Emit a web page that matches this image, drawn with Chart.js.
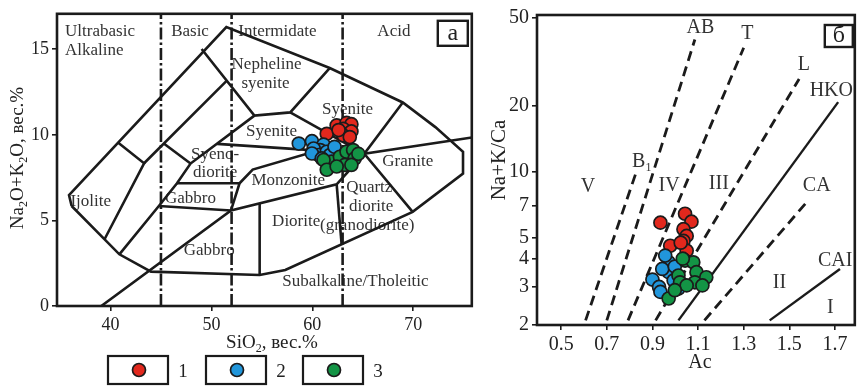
<!DOCTYPE html>
<html>
<head>
<meta charset="utf-8">
<script src="https://cdn.jsdelivr.net/npm/chart.js@4.4.1/dist/chart.umd.min.js"></script>
<style>
  html, body { margin: 0; padding: 0; background: #fff; }
  #wrap { position: relative; width: 863px; height: 386px; overflow: hidden; }
  #boxA { position: absolute; left: 0; top: 0; width: 480px; height: 386px; }
  #boxB { position: absolute; left: 480px; top: 0; width: 383px; height: 386px; }
</style>
</head>
<body>
<div id="wrap">
  <div id="boxA"><canvas id="tas"></canvas></div>
  <div id="boxB"><canvas id="ac"></canvas></div>
</div>
<script>
// ---- panel a : SiO2 vs Na2O+K2O ----
const siO2Ticks = [40, 50, 60, 70];
const alkTicks  = [0, 5, 10, 15];
const classLimits = [45, 52, 63];   // ultrabasic / basic / intermediate / acid

const group1SiO2 = [61.43, 62.41, 63.39, 63.87, 63.06, 63.55, 63.87, 63.06, 63.71, 62.6];
const group1Alk  = [10.06, 10.55, 10.70, 10.62, 10.35, 10.06, 10.20, 9.97, 9.87, 10.28];
const group2SiO2 = [58.66, 59.96, 61.11, 60.77, 60.13, 60.62, 61.43, 61.75, 59.96, 60.94, 62.2];
const group2Alk  = [9.49, 9.63, 9.43, 9.11, 9.20, 8.82, 9.01, 8.82, 8.91, 8.62, 9.3];
const group3SiO2 = [61.92, 62.73, 63.39, 64.04, 64.2, 63.22, 61.11, 61.43, 63.87, 64.56, 62.41];
const group3Alk  = [8.43, 8.72, 9.01, 9.11, 8.62, 8.24, 8.53, 7.96, 8.24, 8.89, 8.15];

// field boundaries, [SiO2, Na2O+K2O]
const outerLine = [[36.15,5.84],[35.89,6.48],[51.48,16.29],[61.72,13.90],[68.96,11.89],[72.19,10.45],[74.93,9.01],[74.93,7.74],[69.94,5.50],[57.32,2.10],[54.78,1.81],[44.01,2.01],[40.88,3.02],[36.15,5.84]];
const ijoliteLine = [[40.71,9.56],[43.33,8.34],[39.41,3.90]];
const innerLeftLine = [[51.48,13.14],[43.33,8.34]];
const nephSyeniteLine = [[49.03,15.01],[54.26,11.12],[57.81,11.31],[61.72,13.90]];
const syeniteSplit = [[57.81,11.31],[65.15,8.89]];
const shortLink = [[45.28,9.49],[47.93,8.32]];
const gabbroLine = [[40.88,3.02],[44.79,5.84],[46.59,7.17],[47.93,8.32],[54.26,11.12]];
const syenodioriteTop = [[50.57,9.47],[57.32,9.21],[65.15,8.89]];
const gabbroAlkTop = [[46.59,7.17],[52.79,7.17],[51.94,5.58]];
const gabbroAlkBottom = [[44.79,5.84],[51.94,5.58]];
const monzoniteTop = [[52.79,7.17],[54.09,7.97],[60.13,9.01],[65.15,8.89]];
const divideLine = [[39.09,0],[51.94,5.58],[62.41,7.11],[65.15,8.89],[75.81,9.84]];
const dioriteLeft = [[54.78,6.02],[54.78,1.81]];
const dioriteRight = [[62.41,7.11],[62.90,3.60]];
const graniteLeft = [[68.96,11.89],[65.15,8.89],[69.94,5.50]];

const tasLabels = [
  ['Ultrabasic', 35.5, 16.03, 'left'], ['Alkaline', 35.5, 14.94, 'left'],
  ['Basic', 47.88, 16.03], ['Intermidate', 56.54, 16.03], ['Acid', 68.08, 16.03],
  ['Nepheline', 55.46, 14.08], ['syenite', 55.36, 12.98],
  ['Syenite', 63.48, 11.49], ['Syenite', 55.95, 10.22],
  ['Syeno-', 50.37, 8.84], ['diorite', 50.37, 7.80],
  ['Monzonite', 57.61, 7.34], ['Granite', 69.45, 8.43],
  ['Quartz', 65.64, 6.94], ['diorite', 65.83, 5.79],
  ['Diorite', 58.40, 4.92], ['(granodiorite)', 65.44, 4.69],
  ['Ijolite', 38.04, 6.13], ['Gabbro', 47.93, 6.30], ['Gabbro', 49.78, 3.25],
  ['Subalkaline/Tholeitic', 64.27, 1.41]
];

// ---- panel b : Ac vs Na+K/Ca ----
const acTicks    = [0.5, 0.7, 0.9, 1.1, 1.3, 1.5, 1.7];
const ratioTicks = [2, 3, 4, 5, 7, 10, 20, 50];

const group1Ac    = [0.935, 1.043, 1.071, 1.036, 1.05, 1.036, 0.978, 1.05, 1.024];
const group1Ratio = [5.85, 6.42, 5.91, 5.46, 5.09, 4.83, 4.59, 4.36, 4.74];
const group2Ac    = [0.9, 0.929, 0.935, 0.971, 0.971, 0.993, 1.014, 0.943, 0.956, 0.998];
const group2Ratio = [3.22, 2.98, 2.83, 3.86, 3.48, 3.19, 2.93, 3.60, 4.14, 3.69];
const group3Ac    = [0.971, 1.014, 1.043, 1.079, 1.093, 1.086, 1.136, 1.021, 1.05, 0.998, 1.033, 1.119];
const group3Ratio = [2.64, 3.36, 3.93, 3.86, 3.48, 3.13, 3.30, 3.13, 3.03, 2.88, 4.01, 3.03];

const lineB1  = [[0.607,2.1],[0.827,9.8]];
const lineAB  = [[0.700,2.1],[1.086,39.9]];
const lineT   = [[0.793,2.1],[1.300,36.6]];
const lineL   = [[0.914,2.1],[1.543,26.4]];
const lineHKO = [[1.014,2.1],[1.714,20.7]];
const lineCA  = [[1.128,2.1],[1.586,7.45]];
const lineCAI = [[1.414,2.1],[1.722,3.6]];

const acLabels = [
  ['AB', 1.110, 45.1], ['T', 1.316, 42.4], ['L', 1.564, 30.7], ['HKO', 1.684, 23.4],
  ['CA', 1.620, 8.65], ['CAI', 1.701, 3.93], ['V', 0.617, 8.56], ['IV', 0.973, 8.65],
  ['III', 1.191, 8.83], ['II', 1.457, 3.13], ['I', 1.680, 2.39]
];

const RED = '#e2281d', BLUE = '#2196db', GREEN = '#139445', INK = '#1b1b1b';
const serif = "'Liberation Serif', 'DejaVu Serif', serif";

function pts(xs, ys) { return xs.map((x, i) => ({ x, y: ys[i] })); }
function pairs(list) { return list.map(p => ({ x: p[0], y: p[1] })); }

function lineSet(list, dash, width) {
    return { data: pairs(list), showLine: true, borderColor: INK, borderWidth: width || 2.6,
             borderDash: dash || [], pointRadius: 0, pointHoverRadius: 0, fill: false, order: 10 };
}
function dotSet(xs, ys, color, order, r) {
    return { data: pts(xs, ys), backgroundColor: color, borderColor: INK, borderWidth: 1.7,
             pointRadius: r, pointHoverRadius: r, order };
}

function richText(ctx, parts, cx, cy, size, rotate) {
    const big = size + 'px ' + serif, small = Math.round(size * 0.62) + 'px ' + serif;
    ctx.save();
    ctx.translate(cx, cy);
    if (rotate) ctx.rotate(-Math.PI / 2);
    let w = 0;
    parts.forEach(p => { ctx.font = p[1] ? small : big; w += ctx.measureText(p[0]).width; });
    let x = -w / 2;
    ctx.textBaseline = 'middle';
    ctx.textAlign = 'left';
    parts.forEach(p => {
        ctx.font = p[1] ? small : big;
        ctx.fillText(p[0], x, p[1] ? size * 0.3 : 0);
        x += ctx.measureText(p[0]).width;
    });
    ctx.restore();
}

// frame round the plot and the little panel letter box
function frameAndTag(chart, tag, box) {
    const { ctx, chartArea: a } = chart;
    ctx.save();
    ctx.strokeStyle = INK;
    ctx.lineWidth = 2.6;
    ctx.strokeRect(a.left, a.top, a.right - a.left, a.bottom - a.top);
    ctx.lineWidth = 2.4;
    const bx = a.right - box[0], by = a.top + box[1];
    ctx.strokeRect(bx, by, box[2], box[3]);
    ctx.fillStyle = '#222';
    ctx.font = '24px ' + serif;
    ctx.textAlign = 'center';
    ctx.textBaseline = 'middle';
    ctx.fillText(tag, bx + box[2] / 2, by + box[3] / 2);
    ctx.restore();
}

function axisStyle(size) {
    return {
        grid: { display: true, drawOnChartArea: false, drawTicks: true, tickLength: 5, color: INK, lineWidth: 1.6 },
        border: { display: false },
        ticks: { color: '#222', font: { family: serif, size }, padding: 3, autoSkip: false, maxRotation: 0 }
    };
}

const tasDecor = {
    id: 'tasDecor',
    beforeDatasetsDraw(chart) {
        const { ctx, scales: { x, y } } = chart;
        ctx.save();
        ctx.fillStyle = '#333';
        ctx.font = '17px ' + serif;
        ctx.textBaseline = 'middle';
        tasLabels.forEach(l => {
            ctx.textAlign = l[3] || 'center';
            ctx.fillText(l[0], x.getPixelForValue(l[1]), y.getPixelForValue(l[2]));
        });
        ctx.restore();
    },
    afterDatasetsDraw(chart) {
        frameAndTag(chart, 'a', [34, 7, 30, 25]);
    },
    afterDraw(chart) {
        const { ctx } = chart;
        ctx.save();
        ctx.fillStyle = '#222';
        richText(ctx, [['Na'], ['2', 1], ['O+K'], ['2', 1], ['O, вес.%']], 18, 158, 19, true);
        richText(ctx, [['SiO'], ['2', 1], [', вес.%']], 272, 343, 19, false);
        const swatches = [[108, RED, '1'], [206, BLUE, '2'], [303, GREEN, '3']];
        swatches.forEach(s => {
            ctx.strokeStyle = INK;
            ctx.lineWidth = 2.2;
            ctx.strokeRect(s[0], 356, 60, 28);
            ctx.beginPath();
            ctx.arc(s[0] + 31, 370, 6.5, 0, Math.PI * 2);
            ctx.fillStyle = s[1];
            ctx.fill();
            ctx.lineWidth = 1.7;
            ctx.stroke();
            ctx.fillStyle = '#222';
            ctx.font = '19px ' + serif;
            ctx.textAlign = 'center';
            ctx.textBaseline = 'middle';
            ctx.fillText(s[2], s[0] + 75, 372);
        });
        ctx.restore();
    }
};

const dashDot = [12, 3, 2.5, 3];
const tasSets = [
    dotSet(group1SiO2, group1Alk, RED, 3, 6.5),
    dotSet(group2SiO2, group2Alk, BLUE, 2, 6.5),
    dotSet(group3SiO2, group3Alk, GREEN, 1, 6.5)
];
classLimits.forEach(v => tasSets.push(lineSet([[v, 0], [v, 17.07]], dashDot, 2.6)));
[outerLine, ijoliteLine, innerLeftLine, nephSyeniteLine, syeniteSplit, shortLink, gabbroLine,
 syenodioriteTop, gabbroAlkTop, gabbroAlkBottom, monzoniteTop, divideLine, dioriteLeft,
 dioriteRight, graniteLeft].forEach(l => tasSets.push(lineSet(l)));

const xA = axisStyle(18);
xA.type = 'linear'; xA.min = 34.7; xA.max = 75.8;
xA.afterBuildTicks = s => { s.ticks = siO2Ticks.map(v => ({ value: v })); };
xA.afterFit = s => { s.height = 80; };
const yA = axisStyle(18);
yA.type = 'linear'; yA.min = 0; yA.max = 17.07;
yA.afterBuildTicks = s => { s.ticks = alkTicks.map(v => ({ value: v })); };
yA.afterFit = s => { s.width = 57; };

new Chart(document.getElementById('tas'), {
    type: 'scatter',
    data: { datasets: tasSets },
    options: {
        responsive: true, maintainAspectRatio: false, animation: false,
        layout: { padding: { top: 10, right: 3, left: 0, bottom: 0 } },
        plugins: { legend: { display: false }, tooltip: { enabled: false } },
        scales: { x: xA, y: yA }
    },
    plugins: [tasDecor]
});

// ---- panel b ----
const acDecor = {
    id: 'acDecor',
    beforeDatasetsDraw(chart) {
        const { ctx, scales: { x, y } } = chart;
        ctx.save();
        ctx.fillStyle = '#333';
        ctx.font = '20px ' + serif;
        ctx.textBaseline = 'middle';
        ctx.textAlign = 'center';
        acLabels.forEach(l => ctx.fillText(l[0], x.getPixelForValue(l[1]), y.getPixelForValue(l[2])));
        richText(ctx, [['B'], ['1', 1]], x.getPixelForValue(0.853), y.getPixelForValue(11.1), 20, false);
        ctx.restore();
    },
    afterDatasetsDraw(chart) {
        frameAndTag(chart, 'б', [30, 10, 28, 22]);
    },
    afterDraw(chart) {
        const { ctx } = chart;
        ctx.save();
        ctx.fillStyle = '#222';
        richText(ctx, [['Na+K/Ca']], 19, 160, 21, true);
        richText(ctx, [['Ac']], 220, 363, 20, false);
        ctx.restore();
    }
};

const acSets = [
    dotSet(group1Ac, group1Ratio, RED, 3, 6.5),
    dotSet(group2Ac, group2Ratio, BLUE, 2, 6.5),
    dotSet(group3Ac, group3Ratio, GREEN, 1, 6.5)
];
[lineB1, lineAB, lineT, lineL, lineCA].forEach(l => acSets.push(lineSet(l, [10, 6], 2.8)));
[lineHKO, lineCAI].forEach(l => acSets.push(lineSet(l, [], 2.4)));

const xB = axisStyle(20);
xB.type = 'linear'; xB.min = 0.394; xB.max = 1.787;
xB.afterBuildTicks = s => { s.ticks = acTicks.map(v => ({ value: v })); };
xB.ticks.callback = v => v.toFixed(1);
xB.afterFit = s => { s.height = 61; };
const yB = axisStyle(20);
yB.type = 'logarithmic'; yB.min = 2; yB.max = 51.6;
yB.afterBuildTicks = s => { s.ticks = ratioTicks.map(v => ({ value: v })); };
yB.ticks.callback = v => String(v);
yB.afterFit = s => { s.width = 57; };

new Chart(document.getElementById('ac'), {
    type: 'scatter',
    data: { datasets: acSets },
    options: {
        responsive: true, maintainAspectRatio: false, animation: false,
        layout: { padding: { top: 12, right: 1, left: 0, bottom: 0 } },
        plugins: { legend: { display: false }, tooltip: { enabled: false } },
        scales: { x: xB, y: yB }
    },
    plugins: [acDecor]
});
</script>
</body>
</html>
